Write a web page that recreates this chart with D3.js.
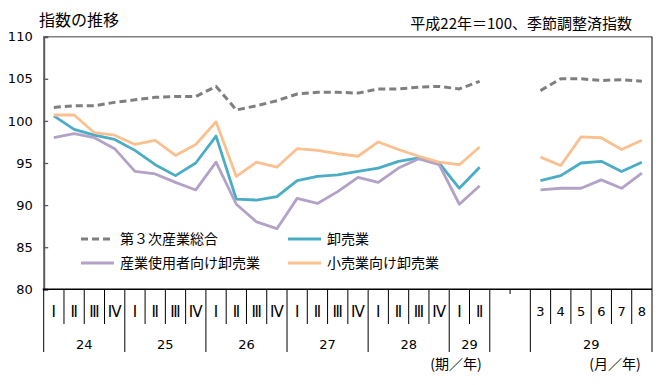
<!DOCTYPE html>
<html>
<head>
<meta charset="utf-8">
<script src="https://cdn.jsdelivr.net/npm/d3@7"></script>
<style>
  body { margin: 0; background: #fff; }
  text { font-family: "DejaVu Sans", sans-serif; }
  .jp { font-family: "Noto Sans CJK JP", sans-serif; }
</style>
</head>
<body>
<div id="chart"></div>
<script>
// categories
var quarterNames = ["Ⅰ", "Ⅱ", "Ⅲ", "Ⅳ"];
var quarterYears = ["24", "25", "26", "27", "28", "29"];
var quarterCount = [4, 4, 4, 4, 4, 2];
var monthLabels = ["3", "4", "5", "6", "7", "8"];
var monthYear = "29";
var yTicks = [80, 85, 90, 95, 100, 105, 110];

// series (quarterly then monthly)
var totalQ = [101.6, 101.8, 101.8, 102.2, 102.5, 102.8, 102.9, 102.9, 104.1, 101.3, 101.8,
              102.4, 103.2, 103.4, 103.4, 103.3, 103.8, 103.8, 104.0, 104.1, 103.8, 104.7];
var totalM = [103.6, 105.0, 105.0, 104.8, 104.9, 104.7];
var wholesaleQ = [100.6, 99.0, 98.3, 97.8, 96.5, 94.8, 93.5, 95.0, 98.2, 90.7, 90.6,
                  91.0, 92.9, 93.4, 93.6, 94.0, 94.4, 95.2, 95.6, 95.0, 92.0, 94.5];
var wholesaleM = [92.9, 93.5, 95.0, 95.2, 94.0, 95.1];
var industryQ = [98.0, 98.5, 98.0, 96.7, 94.0, 93.7, 92.7, 91.8, 95.1, 90.1, 88.0,
                 87.2, 90.8, 90.2, 91.6, 93.3, 92.7, 94.4, 95.5, 94.8, 90.1, 92.3];
var industryM = [91.8, 92.0, 92.0, 93.0, 92.0, 93.8];
var retailQ = [100.7, 100.7, 98.6, 98.3, 97.2, 97.7, 95.9, 97.2, 99.9, 93.4, 95.1,
               94.5, 96.7, 96.5, 96.1, 95.8, 97.5, 96.6, 95.8, 95.1, 94.8, 96.9];
var retailM = [95.7, 94.7, 98.1, 98.0, 96.6, 97.7];

var seriesNames = ["第３次産業総合", "卸売業", "産業使用者向け卸売業", "小売業向け卸売業"];
var seriesQ = [totalQ, wholesaleQ, industryQ, retailQ];
var seriesM = [totalM, wholesaleM, industryM, retailM];
var colors = ["#7f7f7f", "#4bacc6", "#b3a2c7", "#fac090"];

var w = 670, h = 385;
var plotL = 43.7, plotR = 652, plotT = 36.7, plotB = 289.3;

var svg = d3.select("#chart").append("svg")
  .attr("width", w)
  .attr("height", h);

// build category keys: quarters, 2 blank slots, months
var cats = [];
quarterYears.forEach(function(y, i) {
  for (var k = 0; k < quarterCount[i]; k++) {
    cats.push({ key: y + "-" + quarterNames[k], label: quarterNames[k], year: y, kind: "q" });
  }
});
cats.push({ key: "gap1", label: "", kind: "gap" });
cats.push({ key: "gap2", label: "", kind: "gap" });
monthLabels.forEach(function(m) {
  cats.push({ key: "m-" + m, label: m, year: monthYear, kind: "m" });
});

var xScale = d3.scaleBand()
  .domain(cats.map(function(d) { return d.key; }))
  .range([plotL, plotR])
  .padding(0);
var bw = xScale.bandwidth();

var yScale = d3.scaleLinear()
  .domain([80, 110])
  .range([plotB, plotT]);

var qKeys = cats.filter(function(d) { return d.kind == "q"; }).map(function(d) { return d.key; });
var mKeys = cats.filter(function(d) { return d.kind == "m"; }).map(function(d) { return d.key; });

// frame
svg.append("line").attr("x1", plotL).attr("x2", plotR).attr("y1", plotT).attr("y2", plotT)
  .attr("stroke", "#7f7f7f").attr("stroke-width", 1.5);
svg.append("line").attr("x1", plotR).attr("x2", plotR).attr("y1", plotT).attr("y2", plotB)
  .attr("stroke", "#000").attr("stroke-width", 1);

// y axis
var yAxis = d3.axisLeft(yScale).tickValues(yTicks).tickSize(-4.5).tickPadding(11);
var gy = svg.append("g").attr("transform", "translate(" + plotL + ",0)").call(yAxis);
gy.select(".domain").attr("stroke", "#595959").attr("stroke-width", 2);
gy.selectAll(".tick line").attr("stroke", "#595959").attr("stroke-width", 1.3);
gy.selectAll(".tick text").attr("font-size", "13px").attr("fill", "#000")
  .attr("font-family", "DejaVu Sans, sans-serif");

// x axis line
svg.append("line").attr("x1", plotL - 1).attr("x2", plotR).attr("y1", plotB).attr("y2", plotB)
  .attr("stroke", "#000").attr("stroke-width", 1.5);

// category boundary lines
var qShort = 324, yLong = 352, tiny = 294;
var bounds = [];
for (var i = 0; i <= cats.length; i++) {
  var prev = cats[i - 1], next = cats[i];
  var len;
  if (!prev || !next) len = yLong;
  else if (prev.kind == "gap" && next.kind == "gap") len = tiny;
  else if (prev.kind != next.kind || prev.year != next.year) len = yLong;
  else len = qShort;
  bounds.push({ x: plotL + i * bw, y2: len });
}
svg.append("g").selectAll("line")
  .data(bounds)
  .enter()
  .append("line")
  .attr("x1", function(d) { return d.x; })
  .attr("x2", function(d) { return d.x; })
  .attr("y1", plotB)
  .attr("y2", function(d) { return d.y2; })
  .attr("stroke", "#000")
  .attr("stroke-width", 1);

// category labels
svg.append("g").selectAll("text")
  .data(cats.filter(function(d) { return d.kind != "gap"; }))
  .enter()
  .append("text")
  .text(function(d) { return d.label; })
  .attr("x", function(d) { return xScale(d.key) + bw / 2; })
  .attr("y", function(d) { return d.kind == "q" ? 317 : 316; })
  .attr("text-anchor", "middle")
  .attr("font-size", function(d) { return d.kind == "q" ? "15px" : "13px"; })
  .attr("font-family", function(d) { return d.kind == "q" ? "Noto Sans CJK JP, sans-serif" : "DejaVu Sans, sans-serif"; })
  .attr("fill", "#000");

// year labels
var yearGroups = quarterYears.map(function(y) {
  var ks = qKeys.filter(function(k) { return k.split("-")[0] == y; });
  return { label: y, x0: xScale(ks[0]), x1: xScale(ks[ks.length - 1]) + bw };
});
yearGroups.push({ label: monthYear, x0: xScale(mKeys[0]), x1: xScale(mKeys[mKeys.length - 1]) + bw });
svg.append("g").selectAll("text")
  .data(yearGroups)
  .enter()
  .append("text")
  .text(function(d) { return d.label; })
  .attr("x", function(d) { return (d.x0 + d.x1) / 2; })
  .attr("y", 349)
  .attr("text-anchor", "middle")
  .attr("font-size", "13px")
  .attr("fill", "#000");

svg.append("text").attr("class", "jp").text("(期／年)")
  .attr("x", 456).attr("y", 369).attr("text-anchor", "middle")
  .attr("font-size", "14px").attr("fill", "#000");
svg.append("text").attr("class", "jp").text("(月／年)")
  .attr("x", 615).attr("y", 369).attr("text-anchor", "middle")
  .attr("font-size", "14px").attr("fill", "#000");

// titles
svg.append("text").attr("class", "jp").text("指数の推移")
  .attr("x", 39).attr("y", 26).attr("font-size", "16px").attr("fill", "#000");
svg.append("text").attr("class", "jp").text("平成22年＝100、季節調整済指数")
  .attr("x", 632).attr("y", 29).attr("text-anchor", "end")
  .attr("font-size", "15px").attr("fill", "#000");

// lines
var line = d3.line()
  .x(function(d) { return xScale(d.k) + bw / 2; })
  .y(function(d) { return yScale(d.v); });

seriesNames.forEach(function(name, si) {
  [[seriesQ[si], qKeys], [seriesM[si], mKeys]].forEach(function(pair) {
    var pts = pair[0].map(function(v, i) { return { k: pair[1][i], v: v }; });
    svg.append("path")
      .datum(pts)
      .attr("d", line)
      .attr("fill", "none")
      .attr("stroke", colors[si])
      .attr("stroke-width", si == 0 ? 3 : 2.8)
      .attr("stroke-dasharray", si == 0 ? "7,4" : null)
      .attr("stroke-linejoin", "round");
  });
});

// legend
var legendPos = [[81, 239], [288, 239], [81, 263], [288, 263]];
var lg = svg.append("g").selectAll("g")
  .data(seriesNames)
  .enter()
  .append("g")
  .attr("transform", function(d, i) { return "translate(" + legendPos[i][0] + "," + legendPos[i][1] + ")"; });
lg.append("line")
  .attr("x1", 0).attr("x2", 33).attr("y1", 0).attr("y2", 0)
  .attr("stroke", function(d, i) { return colors[i]; })
  .attr("stroke-width", 3)
  .attr("stroke-dasharray", function(d, i) { return i == 0 ? "7,4" : null; });
lg.append("text")
  .attr("class", "jp")
  .text(function(d) { return d; })
  .attr("x", 39)
  .attr("y", 5)
  .attr("font-size", "14px")
  .attr("fill", "#000");
</script>
</body>
</html>
